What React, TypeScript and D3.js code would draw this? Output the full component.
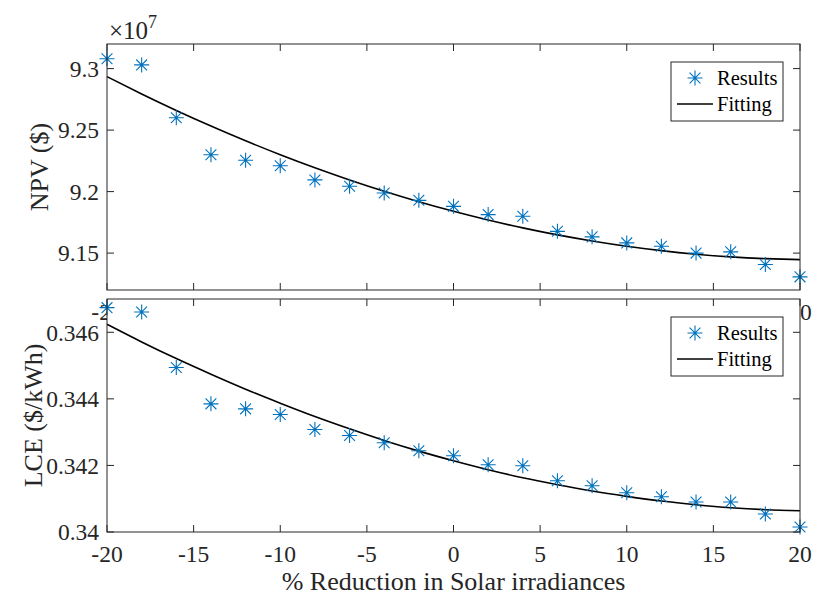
import * as d3 from "d3";
import React from "react";

// % reduction in solar irradiance (x)
const reduction = [-20, -18, -16, -14, -12, -10, -8, -6, -4, -2, 0, 2, 4, 6, 8, 10, 12, 14, 16, 18, 20];

// NPV, in units of 1e7 $
const npvResults = [9.308, 9.303, 9.260, 9.230, 9.2255, 9.221, 9.2095, 9.2043, 9.1989, 9.1929, 9.188,
  9.1813, 9.180, 9.1677, 9.1632, 9.1583, 9.1556, 9.150, 9.151, 9.1407, 9.1307];
const npvFit = [9.2935, 9.2794, 9.2660, 9.2533, 9.2413, 9.2300, 9.2194, 9.2095, 9.2003, 9.1918, 9.1840,
  9.1769, 9.1705, 9.1648, 9.1599, 9.1556, 9.1520, 9.1491, 9.1469, 9.1455, 9.1447];

// LCE, $/kWh
const lceResults = [0.34674, 0.34661, 0.34494, 0.34385, 0.3437, 0.34353, 0.34308, 0.3429, 0.34268, 0.34244, 0.34229,
  0.34202, 0.34199, 0.34154, 0.34139, 0.34118, 0.34106, 0.3409, 0.3409, 0.34054, 0.34015];
const lceFit = [0.34624, 0.34571, 0.34521, 0.34474, 0.34429, 0.34387, 0.34347, 0.34310, 0.34275, 0.34243, 0.34214,
  0.34187, 0.34163, 0.34142, 0.34123, 0.34107, 0.34093, 0.34082, 0.34073, 0.34067, 0.34064];

const xTicks = [-20, -15, -10, -5, 0, 5, 10, 15, 20];
const npvTicks = [9.15, 9.2, 9.25, 9.3];
const lceTicks = [0.34, 0.342, 0.344, 0.346];
const legendLabels = ["Results", "Fitting"];

const W = 813;
const H = 599;
const left = 107;
const right = 800;
const axColor = "#262626";
const blue = "#0072BD";
const font = "'Liberation Serif', 'Times New Roman', serif";
const tickLen = 7;

const x = d3.scaleLinear().domain([-20, 20]).range([left, right]);

const Star = ({ cx, cy }: { cx: number; cy: number }) => {
  const r = 7.5;
  const d = r * 0.72;
  return (
    <path
      d={`M${cx - r},${cy}H${cx + r}M${cx},${cy - r}V${cy + r}M${cx - d},${cy - d}L${cx + d},${cy + d}M${cx - d},${cy + d}L${cx + d},${cy - d}`}
      stroke={blue}
      strokeWidth={1.1}
      fill="none"
    />
  );
};

const Panel = (props: {
  top: number;
  bottom: number;
  domain: [number, number];
  results: number[];
  fit: number[];
  yTicks: number[];
  fmt: (v: number) => string;
  ylabel: string;
  ylabelX: number;
  legendY: number;
}) => {
  const { top, bottom, domain, results, fit, yTicks, fmt, ylabel, ylabelX, legendY } = props;
  const y = d3.scaleLinear().domain(domain).range([bottom, top]);
  const line = d3.line<number>().x((_, i) => x(reduction[i])).y((v) => y(v)).curve(d3.curveNatural);
  return (
    <g>
      <rect x={left} y={top} width={right - left} height={bottom - top} fill="#fff" />
      {xTicks.map((t) => (
        <g key={"xt" + t}>
          <line x1={x(t)} x2={x(t)} y1={bottom} y2={bottom - tickLen} stroke={axColor} />
          <line x1={x(t)} x2={x(t)} y1={top} y2={top + tickLen} stroke={axColor} />
          <text x={x(t)} y={bottom + 30} textAnchor="middle" fontFamily={font} fontSize={23.5} fill={axColor}>
            {t}
          </text>
        </g>
      ))}
      {yTicks.map((t) => (
        <g key={"yt" + t}>
          <line x1={left} x2={left + tickLen} y1={y(t)} y2={y(t)} stroke={axColor} />
          <line x1={right} x2={right - tickLen} y1={y(t)} y2={y(t)} stroke={axColor} />
          <text x={left - 8} y={y(t)} dy="0.35em" textAnchor="end" fontFamily={font} fontSize={23.5} fill={axColor}>
            {fmt(t)}
          </text>
        </g>
      ))}
      <path d={line(fit) || ""} fill="none" stroke="#000" strokeWidth={1.6} />
      {results.map((v, i) => (
        <Star key={"p" + i} cx={x(reduction[i])} cy={y(v)} />
      ))}
      <rect x={left} y={top} width={right - left} height={bottom - top} fill="none" stroke={axColor} strokeWidth={1} />
      <text
        transform={`translate(${ylabelX},${(top + bottom) / 2}) rotate(-90)`}
        textAnchor="middle"
        fontFamily={font}
        fontSize={26}
        fill={axColor}
      >
        {ylabel}
      </text>
      <g>
        <rect x={671} y={legendY} width={112} height={59} fill="#fff" stroke={axColor} strokeWidth={1} />
        <Star cx={695} cy={legendY + 16} />
        <text x={717} y={legendY + 23} fontFamily={font} fontSize={20.5} fill="#000">
          {legendLabels[0]}
        </text>
        <line x1={677} x2={713} y1={legendY + 42} y2={legendY + 42} stroke="#000" strokeWidth={1.6} />
        <text x={717} y={legendY + 49} fontFamily={font} fontSize={20.5} fill="#000">
          {legendLabels[1]}
        </text>
      </g>
    </g>
  );
};

export default function App() {
  return (
    <svg width={W} height={H} style={{ position: "absolute", left: 0, top: 0, background: "#fff" }}>
      <rect width={W} height={H} fill="#fff" />
      <Panel
        top={44}
        bottom={290}
        domain={[9.12, 9.32]}
        results={npvResults}
        fit={npvFit}
        yTicks={npvTicks}
        fmt={(v) => d3.format("~g")(v)}
        ylabel="NPV ($)"
        ylabelX={48}
        legendY={62}
      />
      <text x={109} y={39} fontFamily={font} fontSize={25} fill={axColor}>
        ×10<tspan fontSize={18} dy={-11}>7</tspan>
      </text>
      <Panel
        top={299}
        bottom={532}
        domain={[0.34, 0.347]}
        results={lceResults}
        fit={lceFit}
        yTicks={lceTicks}
        fmt={(v) => d3.format("~g")(v)}
        ylabel="LCE ($/kWh)"
        ylabelX={42}
        legendY={317}
      />
      <text x={(left + right) / 2} y={590} textAnchor="middle" fontFamily={font} fontSize={26} fill={axColor}>
        % Reduction in Solar irradiances
      </text>
    </svg>
  );
}
